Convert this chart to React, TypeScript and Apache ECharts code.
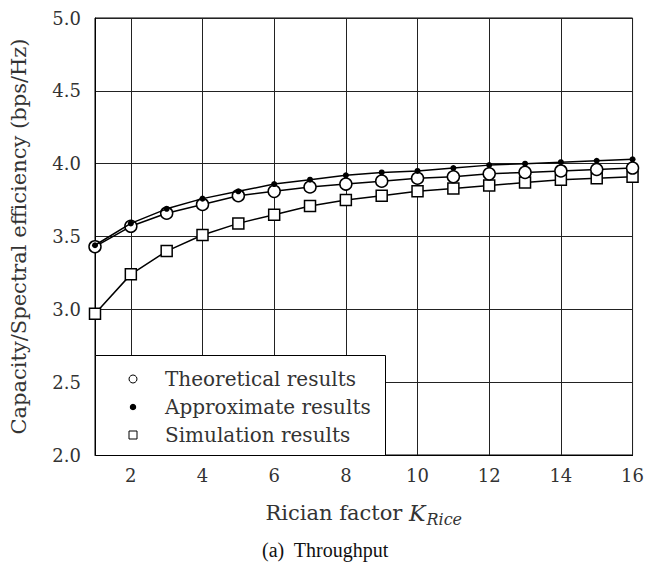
import React, { useEffect, useRef } from "react";
import * as echarts from "echarts";

const kValues = [1, 2, 3, 4, 5, 6, 7, 8, 9, 10, 11, 12, 13, 14, 15, 16];
const theoretical = [3.43, 3.57, 3.66, 3.72, 3.78, 3.81, 3.84, 3.86, 3.88, 3.9, 3.91, 3.93, 3.94, 3.95, 3.96, 3.97];
const approximate = [3.44, 3.59, 3.69, 3.76, 3.81, 3.86, 3.89, 3.92, 3.94, 3.95, 3.97, 3.99, 4.0, 4.01, 4.02, 4.03];
const simulation = [2.97, 3.24, 3.4, 3.51, 3.59, 3.65, 3.71, 3.75, 3.78, 3.81, 3.83, 3.85, 3.87, 3.89, 3.9, 3.91];
const xTicks = [2, 4, 6, 8, 10, 12, 14, 16];
const seriesNames = ["Theoretical results", "Approximate results", "Simulation results"];

const FONT = "DejaVu Serif";

export default function App() {
  const ref = useRef<HTMLDivElement>(null);
  useEffect(() => {
    if (!ref.current) return;
    const chart = echarts.init(ref.current, undefined, { renderer: "svg" });
    const pairs = (ys: number[]) => kValues.map((k, i) => [k, ys[i]]);
    chart.setOption({
      animation: false,
      backgroundColor: "#fff",
      grid: {
        left: 95,
        top: 18,
        width: 539,
        height: 437,
        show: true,
        borderColor: "#000",
        borderWidth: 1,
        backgroundColor: "transparent",
      },
      xAxis: {
        type: "value",
        min: 1,
        max: 16,
        name: "Rician factor {k|K}{s|Rice}",
        nameLocation: "middle",
        nameGap: 44,
        nameTextStyle: {
          fontFamily: FONT,
          fontSize: 21,
          color: "#333",
          rich: {
            k: { fontFamily: FONT, fontStyle: "italic", fontSize: 22, color: "#333" },
            s: { fontFamily: FONT, fontStyle: "italic", fontSize: 16, color: "#333", padding: [12, 0, 0, 1] },
          },
        },
        axisLine: { show: true, lineStyle: { color: "#000", width: 1 } },
        axisTick: { show: false, customValues: xTicks },
        axisLabel: {
          customValues: xTicks,
          fontFamily: FONT,
          fontSize: 18,
          color: "#333",
          margin: 11,
        },
        splitLine: { show: true, lineStyle: { color: "#222", width: 1 } },
      },
      yAxis: {
        type: "value",
        min: 2,
        max: 5,
        interval: 0.5,
        name: "Capacity/Spectral efficiency (bps/Hz)",
        nameLocation: "middle",
        nameGap: 66,
        nameTextStyle: { fontFamily: FONT, fontSize: 21, color: "#333" },
        axisLine: { show: true, lineStyle: { color: "#000", width: 1 } },
        axisTick: { show: false },
        axisLabel: {
          fontFamily: FONT,
          fontSize: 18,
          color: "#333",
          margin: 14,
          formatter: (v: number) => v.toFixed(1),
        },
        splitLine: { show: true, lineStyle: { color: "#222", width: 1 } },
      },
      legend: {
        orient: "vertical",
        left: 101,
        top: 364,
        z: 60,
        itemWidth: 54,
        itemHeight: 10,
        itemGap: 8,
        textStyle: { fontFamily: FONT, fontSize: 20, color: "#333", lineHeight: 20 },
        lineStyle: { color: "rgba(0,0,0,0)", width: 0 },
        data: [
          { name: seriesNames[0], itemStyle: { color: "#fff", borderColor: "#000", borderWidth: 1 } },
          { name: seriesNames[1], itemStyle: { color: "#000", borderColor: "#fff", borderWidth: 1.5 } },
          { name: seriesNames[2], itemStyle: { color: "#fff", borderColor: "#000", borderWidth: 1 } },
        ],
      },
      graphic: [
        {
          type: "rect",
          left: 95,
          top: 355,
          z: 50,
          shape: { width: 290, height: 100 },
          style: { fill: "#fff", stroke: "#000", lineWidth: 1 },
        },
        {
          type: "text",
          left: 262,
          top: 540,
          z: 50,
          style: {
            text: "(a)  Throughput",
            fontFamily: "Liberation Serif",
            fontSize: 20,
            fill: "#111",
          },
        },
      ],
      series: [
        {
          name: seriesNames[2],
          type: "line",
          data: pairs(simulation),
          symbol: "rect",
          symbolSize: 11,
          lineStyle: { color: "#000", width: 1.5 },
          itemStyle: { color: "#fff", borderColor: "#000", borderWidth: 1.5 },
          z: 3,
        },
        {
          name: seriesNames[0],
          type: "line",
          data: pairs(theoretical),
          symbol: "circle",
          symbolSize: 12,
          lineStyle: { color: "#000", width: 1.5 },
          itemStyle: { color: "#fff", borderColor: "#000", borderWidth: 1.5 },
          z: 4,
        },
        {
          name: seriesNames[1],
          type: "line",
          data: pairs(approximate),
          symbol: "circle",
          symbolSize: 6,
          lineStyle: { color: "#000", width: 1.5 },
          itemStyle: { color: "#000", borderColor: "#000", borderWidth: 0 },
          z: 5,
        },
      ],
    });
    return () => chart.dispose();
  }, []);
  return (
    <div
      ref={ref}
      style={{ position: "absolute", left: 0, top: 0, width: 647, height: 566 }}
    />
  );
}
